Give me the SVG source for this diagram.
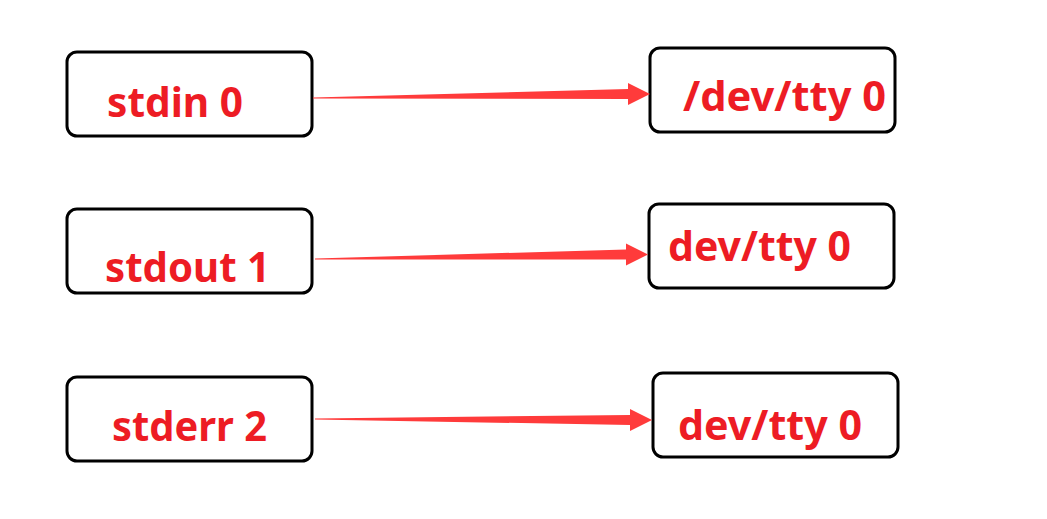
<svg xmlns="http://www.w3.org/2000/svg" width="1047" height="519" viewBox="0 0 1047 519">
<style>
.box{fill:#fff;stroke:#000;stroke-width:3}
.t{font-family:"Noto Sans","Open Sans",sans-serif;font-weight:bold;font-size:42px;fill:#ed1c24}
.arr{fill:#ff3b3b}
</style>
<rect width="1047" height="519" fill="#fff"/>
<g id="n_stdin"><rect class="box" x="67" y="52" width="245" height="84" rx="10"/><text class="t" x="107" y="117" textLength="136" lengthAdjust="spacingAndGlyphs">stdin 0</text></g>
<g id="n_tty1"><rect class="box" x="650" y="48" width="245" height="84" rx="10"/><text class="t" x="683" y="111" textLength="203" lengthAdjust="spacingAndGlyphs">/dev/tty 0</text></g>
<g id="n_stdout"><rect class="box" x="67" y="209" width="245" height="84" rx="10"/><text class="t" x="105" y="282" textLength="165" lengthAdjust="spacingAndGlyphs">stdout 1</text></g>
<g id="n_tty2"><rect class="box" x="649" y="204" width="245" height="84" rx="10"/><text class="t" x="668" y="261" textLength="183" lengthAdjust="spacingAndGlyphs">dev/tty 0</text></g>
<g id="n_stderr"><rect class="box" x="67" y="377" width="245" height="84" rx="10"/><text class="t" x="112" y="441" textLength="155" lengthAdjust="spacingAndGlyphs">stderr 2</text></g>
<g id="n_tty3"><rect class="box" x="653" y="373" width="245" height="84" rx="10"/><text class="t" x="678" y="440" textLength="184" lengthAdjust="spacingAndGlyphs">dev/tty 0</text></g>
<g id="connectors">
<polygon class="arr" points="313,97.5 313,98.5 628,99 628,105 650,94 628,83 628,89"/>
<polygon class="arr" points="315,258.5 315,259.5 626,259.5 626,265.5 648,254.5 626,243.5 626,249.5"/>
<polygon class="arr" points="315,418.5 315,419.5 630,425 630,431 652,420 630,409 630,415"/>
</g>
</svg>
